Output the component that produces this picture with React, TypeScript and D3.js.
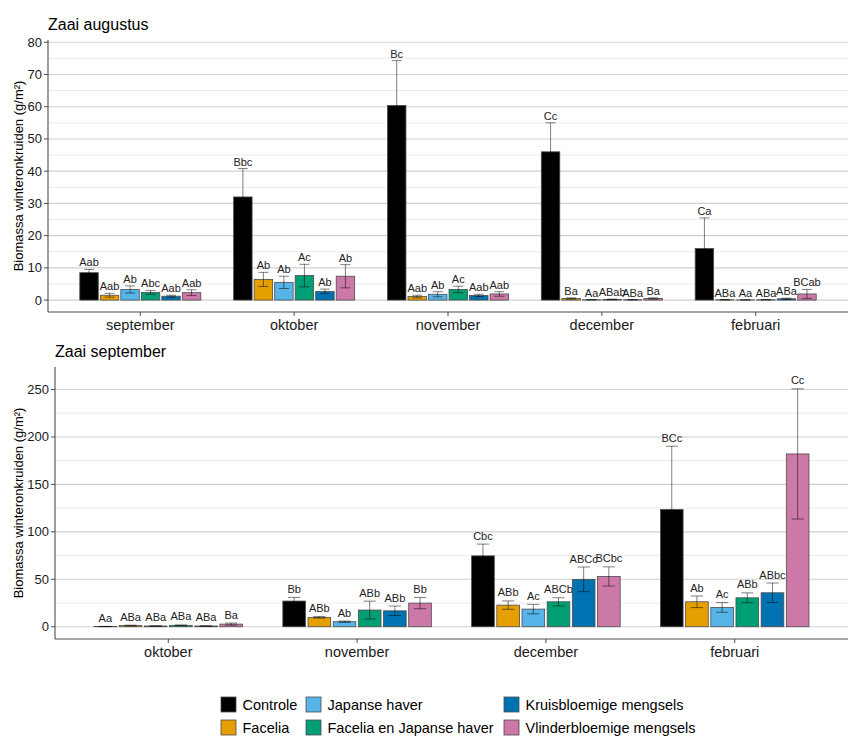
import React from "react";
import * as d3 from "d3";

const treatments = [
  "Controle",
  "Facelia",
  "Japanse haver",
  "Facelia en Japanse haver",
  "Kruisbloemige mengsels",
  "Vlinderbloemige mengsels",
];
const colors = ["#000000", "#E69F00", "#56B4E9", "#009E73", "#0072B2", "#CC79A7"];

// Zaai augustus
const augMonths = ["september", "oktober", "november", "december", "februari"];
const augMean = [
  [8.5, 1.5, 3.3, 2.4, 1.2, 2.3],
  [32.0, 6.4, 5.5, 7.6, 2.7, 7.4],
  [60.4, 1.1, 1.8, 3.3, 1.45, 1.9],
  [46.0, 0.5, 0.1, 0.2, 0.1, 0.5],
  [16.0, 0.1, 0.05, 0.1, 0.4, 1.9],
];
const augSe = [
  [1.0, 0.6, 1.1, 0.6, 0.3, 0.9],
  [8.8, 2.2, 1.9, 3.5, 0.7, 3.6],
  [13.9, 0.4, 0.8, 1.0, 0.35, 0.7],
  [9.0, 0.2, 0.05, 0.1, 0.05, 0.2],
  [9.5, 0.05, 0.03, 0.05, 0.2, 1.4],
];
const augLabels = [
  ["Aab", "Aab", "Ab", "Abc", "Aab", "Aab"],
  ["Bbc", "Ab", "Ab", "Ac", "Ab", "Ab"],
  ["Bc", "Aab", "Ab", "Ac", "Aab", "Aab"],
  ["Cc", "Ba", "Aa", "ABab", "ABa", "Ba"],
  ["Ca", "ABa", "Aa", "ABa", "ABa", "BCab"],
];
const augTicks = [0, 10, 20, 30, 40, 50, 60, 70, 80];

// Zaai september
const sepMonths = ["oktober", "november", "december", "februari"];
const sepMean = [
  [0.3, 1.2, 0.8, 1.5, 0.8, 2.8],
  [27.1, 9.9, 5.3, 17.6, 16.8, 24.9],
  [74.7, 22.8, 18.6, 26.3, 49.9, 53.0],
  [123.6, 26.3, 20.4, 30.5, 35.8, 182.1],
];
const sepSe = [
  [0.1, 0.5, 0.2, 0.4, 0.2, 1.1],
  [3.8, 0.8, 0.7, 9.4, 5.0, 5.9],
  [12.4, 4.4, 5.0, 4.3, 13.0, 10.1],
  [66.6, 6.1, 5.1, 5.2, 10.3, 68.6],
];
const sepLabels = [
  ["Aa", "ABa", "ABa", "ABa", "ABa", "Ba"],
  ["Bb", "ABb", "Ab", "ABb", "ABb", "Bb"],
  ["Cbc", "ABb", "Ac", "ABCb", "ABCc", "BCbc"],
  ["BCc", "Ab", "Ac", "ABb", "ABbc", "Cc"],
];
const sepTicks = [0, 50, 100, 150, 200, 250];

const FONT = "'Liberation Sans', Arial, sans-serif";

type PanelProps = {
  title: string;
  months: string[];
  mean: number[][];
  se: number[][];
  labels: string[][];
  ticks: number[];
  minorStep: number;
  domain: [number, number];
  left: number;
  right: number;
  top: number;
  bottom: number;
  labelOffset: number;
};

function Panel(p: PanelProps) {
  const x = d3
    .scaleBand<string>()
    .domain(p.months)
    .range([p.left, p.right])
    .paddingInner(0)
    .paddingOuter(0.1);
  const step = x.bandwidth();
  const inner = d3
    .scaleBand<string>()
    .domain(treatments)
    .range([-0.4 * step, 0.4 * step])
    .paddingInner(0.1)
    .paddingOuter(0.05);
  const y = d3.scaleLinear().domain(p.domain).range([p.bottom, p.top]);
  const minor = d3.range(p.ticks[0], p.ticks[p.ticks.length - 1] + 1e-9, p.minorStep).filter(
    (v) => !p.ticks.includes(v)
  );
  const bw = inner.bandwidth();
  const cap = bw * 0.27;
  const midY = (p.top + p.bottom) / 2;
  return (
    <g>
      <text x={p.left} y={p.top - 10} fontSize={16} fontFamily={FONT} fill="#000">
        {p.title}
      </text>
      {minor.map((v) => (
        <line key={"m" + v} x1={p.left} x2={p.right} y1={y(v)} y2={y(v)} stroke="#ebebeb" strokeWidth={1} />
      ))}
      {p.ticks.map((v) => (
        <line key={"g" + v} x1={p.left} x2={p.right} y1={y(v)} y2={y(v)} stroke="#d0d0d0" strokeWidth={1.1} />
      ))}
      {p.months.map((m, i) => {
        const cx = (x(m) as number) + step / 2;
        return (
          <g key={m}>
            {treatments.map((t, j) => {
              const bx = cx + (inner(t) as number);
              const v = p.mean[i][j];
              const s = p.se[i][j];
              const ex = bx + bw / 2;
              return (
                <g key={t}>
                  <rect
                    x={bx}
                    y={y(v)}
                    width={bw}
                    height={y(0) - y(v)}
                    fill={colors[j]}
                    stroke="#4d4d4d"
                    strokeWidth={0.8}
                  />
                  <g stroke="#000" strokeOpacity={0.5} strokeWidth={1}>
                    <line x1={ex} x2={ex} y1={y(v + s)} y2={y(Math.max(v - s, 0))} />
                    <line x1={ex - cap} x2={ex + cap} y1={y(v + s)} y2={y(v + s)} />
                    <line x1={ex - cap} x2={ex + cap} y1={y(Math.max(v - s, 0))} y2={y(Math.max(v - s, 0))} />
                  </g>
                  <text
                    x={ex}
                    y={y(v + s) - p.labelOffset}
                    textAnchor="middle"
                    fontSize={11}
                    fontFamily={FONT}
                    fill="#222"
                  >
                    {p.labels[i][j]}
                  </text>
                </g>
              );
            })}
            <line x1={cx} x2={cx} y1={p.bottom} y2={p.bottom + 4} stroke="#4d4d4d" />
            <text x={cx} y={p.bottom + 18} textAnchor="middle" fontSize={14.5} fontFamily={FONT} fill="#1a1a1a">
              {m}
            </text>
          </g>
        );
      })}
      {p.ticks.map((v) => (
        <g key={"t" + v}>
          <line x1={p.left - 4} x2={p.left} y1={y(v)} y2={y(v)} stroke="#4d4d4d" />
          <text
            x={p.left - 6}
            y={y(v)}
            dy="0.35em"
            textAnchor="end"
            fontSize={13}
            fontFamily={FONT}
            fill="#1a1a1a"
          >
            {v}
          </text>
        </g>
      ))}
      <line x1={p.left} x2={p.left} y1={p.top} y2={p.bottom} stroke="#4d4d4d" strokeWidth={1.1} />
      <line x1={p.left} x2={p.right} y1={p.bottom} y2={p.bottom} stroke="#4d4d4d" strokeWidth={1.1} />
      <text
        transform={`translate(${18 + 4.5},${midY}) rotate(-90)`}
        textAnchor="middle"
        fontSize={13}
        fontFamily={FONT}
        fill="#000"
      >
        Biomassa winteronkruiden (g/m²)
      </text>
    </g>
  );
}

const legendCols = [221, 306, 504];
const legendRows = [697, 720];

export default function App() {
  return (
    <svg
      width={857}
      height={750}
      style={{ position: "absolute", left: 0, top: 0, background: "#fff" }}
    >
      <rect width={857} height={750} fill="#fff" />
      <Panel
        title="Zaai augustus"
        months={augMonths}
        mean={augMean}
        se={augSe}
        labels={augLabels}
        ticks={augTicks}
        minorStep={5}
        domain={[-3.7, 80.7]}
        left={48}
        right={848}
        top={40}
        bottom={312}
        labelOffset={3}
      />
      <Panel
        title="Zaai september"
        months={sepMonths}
        mean={sepMean}
        se={sepSe}
        labels={sepLabels}
        ticks={sepTicks}
        minorStep={25}
        domain={[-12.9, 273.7]}
        left={55}
        right={848}
        top={367}
        bottom={639}
        labelOffset={4.5}
      />
      {treatments.map((t, k) => {
        const col = Math.floor(k / 2);
        const row = k % 2;
        const lx = legendCols[col];
        const ly = legendRows[row];
        return (
          <g key={t}>
            <rect x={lx} y={ly} width={15} height={15} fill={colors[k]} stroke="#4d4d4d" strokeWidth={0.8} />
            <text x={lx + 21.5} y={ly + 12.5} fontSize={14.5} fontFamily={FONT} fill="#000">
              {t}
            </text>
          </g>
        );
      })}
    </svg>
  );
}
